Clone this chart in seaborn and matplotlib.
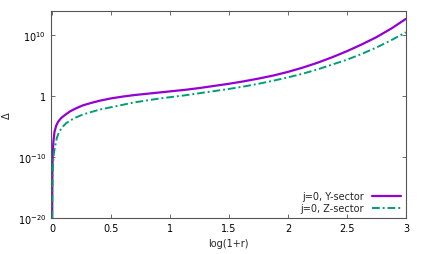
import seaborn as sns
import matplotlib.pyplot as plt
import numpy as np
import pandas as pd

# datos (exponente log10 de Delta)
x_y = [0, 0.001, 0.002, 0.004, 0.007, 0.01, 0.02, 0.035, 0.05, 0.075, 0.1,
       0.15, 0.2, 0.26, 0.33, 0.4, 0.5, 0.6, 0.7, 0.8, 0.9, 1.0, 1.125,
       1.25, 1.375, 1.5, 1.625, 1.75, 1.875, 2.0, 2.125, 2.25, 2.375, 2.5,
       2.625, 2.75, 2.875, 3.0]
exp_y = [-20, -14, -12, -10, -8.5, -7.5, -5.8, -4.8, -4.2, -3.6, -3.2,
         -2.5, -2.0, -1.5, -1.1, -0.75, -0.35, -0.05, 0.2, 0.4, 0.6, 0.8, 1.05,
         1.35, 1.7, 2.05, 2.45, 2.9, 3.4, 4.0, 4.7, 5.5, 6.4, 7.4,
         8.5, 9.7, 11.1, 12.7]

x_z = [0, 0.002, 0.005, 0.01, 0.015, 0.025, 0.04, 0.06, 0.09, 0.12, 0.16,
       0.2, 0.26, 0.33, 0.4, 0.5, 0.6, 0.7, 0.8, 0.9, 1.0, 1.125, 1.25,
       1.375, 1.5, 1.625, 1.75, 1.875, 2.0, 2.125, 2.25, 2.375, 2.5, 2.625,
       2.75, 2.875, 3.0]
exp_z = [-20, -15, -12, -10.3, -9.3, -8.2, -6.8, -5.8, -5.0, -4.4, -3.9,
         -3.5, -3.0, -2.6, -2.2, -1.8, -1.4, -1.0, -0.7, -0.4, -0.15, 0.15, 0.5,
         0.85, 1.2, 1.6, 2.05, 2.55, 3.1, 3.7, 4.4, 5.2, 6.0, 6.95,
         8.0, 9.2, 10.5]

etiquetas = ["j=0, Y-sector", "j=0, Z-sector"]
yticks = [1e-20, 1e-10, 1, 1e10]
ytick_labels = [r"$10^{-20}$", r"$10^{-10}$", "1", r"$10^{10}$"]

sns.set_style("ticks")
plt.rcParams['font.family'] = ['DejaVu Sans']

df_y = pd.DataFrame({"x": x_y, "delta": 10.0 ** np.array(exp_y)})
df_z = pd.DataFrame({"x": x_z, "delta": 10.0 ** np.array(exp_z)})

fig = plt.figure(figsize=(4.25, 2.55), dpi=100)
ax = fig.add_axes([0.12, 0.141, 0.835, 0.812])

sns.lineplot(data=df_y, x="x", y="delta", ax=ax, color="#9400D3",
             linewidth=1.6, label=etiquetas[0])
sns.lineplot(data=df_z, x="x", y="delta", ax=ax, color="#009E73",
             linewidth=1.4, label=etiquetas[1])
ax.lines[1].set_dashes((4, 1.5, 1, 1.5))

ax.set_yscale("log")
ax.set_xlim(-0.01, 3)
ax.set_ylim(1e-20, 1e14)
ax.set_xticks([0, 0.5, 1, 1.5, 2, 2.5, 3])
ax.set_xticklabels(["0", "0.5", "1", "1.5", "2", "2.5", "3"])
ax.set_yticks(yticks)
ax.set_yticklabels(ytick_labels)
ax.minorticks_off()
ax.tick_params(direction="in", length=3, width=0.6, colors="#555555",
               labelcolor="black", labelsize=7, top=True, right=True)
for s in ax.spines.values():
    s.set_color("#555555")
    s.set_linewidth(0.8)

ax.set_xlabel("log(1+r)", fontsize=7)
ax.set_ylabel("Δ", fontsize=7)

ax.legend(loc="lower right", frameon=False, fontsize=7, markerfirst=False,
          handlelength=3.0, borderaxespad=0.1, labelspacing=0.2)

fig.savefig("out.png", dpi=100)
